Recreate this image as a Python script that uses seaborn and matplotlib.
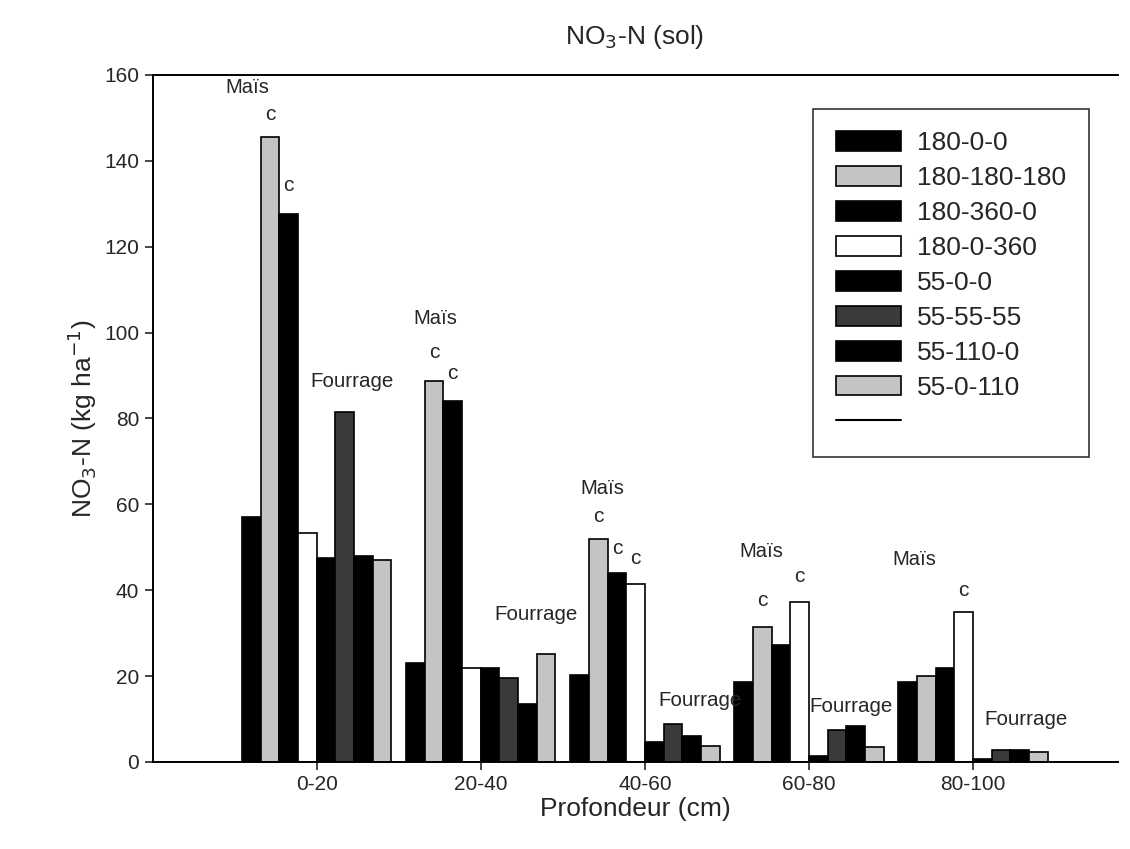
import matplotlib
matplotlib.use("Agg")
import matplotlib.pyplot as plt
from matplotlib.lines import Line2D
import numpy as np
import pandas as pd
import seaborn as sns

depths = ["0-20", "20-40", "40-60", "60-80", "80-100"]
treatments = ["180-0-0", "180-180-180", "180-360-0", "180-0-360",
              "55-0-0", "55-55-55", "55-110-0", "55-0-110"]

# NO3-N (kg/ha) per treatment, one value per depth
v_180_0_0 = [57, 23, 20.3, 18.6, 18.6]
v_180_180_180 = [145.5, 88.8, 52, 31.5, 20]
v_180_360_0 = [127.7, 84, 44, 27.2, 22]
v_180_0_360 = [53.4, 22, 41.5, 37.3, 35]
v_55_0_0 = [47.6, 22, 4.7, 1.4, 0.8]
v_55_55_55 = [81.6, 19.6, 8.8, 7.5, 2.8]
v_55_110_0 = [48, 13.5, 6, 8.4, 2.8]
v_55_0_110 = [47.1, 25.2, 3.7, 3.5, 2.3]

series = [v_180_0_0, v_180_180_180, v_180_360_0, v_180_0_360,
          v_55_0_0, v_55_55_55, v_55_110_0, v_55_0_110]

colors = ["#000000", "#c4c4c4", "#000000", "#ffffff",
          "#000000", "#3a3a3a", "#000000", "#c4c4c4"]

# "c" letters: (depth index, treatment index, gap above the bar)
c_marks = [(0, 1, 5.2), (0, 2, 6.5), (1, 1, 6.5), (1, 2, 6.5), (2, 1, 5.2),
           (2, 2, 5.8), (2, 3, 6), (3, 1, 6), (3, 3, 6), (4, 3, 5)]
# crop labels: (x in category units, y)
mais_labels = [(-0.42, 157), (0.72, 103.3), (1.74, 63.7), (2.71, 49), (3.64, 47.2)]
fourrage_labels = [(-0.04, 88.5), (1.085, 34.3), (2.08, 14.3), (3.0, 12.9), (4.07, 9.9)]

rows = []
for t, vals in zip(treatments, series):
    for d, v in zip(depths, vals):
        rows.append({"Profondeur": d, "Traitement": t, "NO3": v})
df = pd.DataFrame(rows)

sns.set_style("ticks")
plt.rcParams["font.family"] = ["Liberation Sans", "DejaVu Sans"]

fig = plt.figure(figsize=(11.3, 8.49), dpi=100)
ax = fig.add_axes([0.135, 0.1025, 0.854, 0.8092])

group_w = 0.91
sns.barplot(data=df, x="Profondeur", y="NO3", hue="Traitement",
            hue_order=treatments, order=depths, palette=colors,
            width=group_w, gap=0, edgecolor="black", linewidth=1.2,
            errorbar=None, ax=ax, legend=True)

bw = group_w / len(treatments)
for di, ti, gap in c_marks:
    x = di - group_w / 2 + bw * (ti + 0.5)
    ax.text(x, series[ti][di] + gap, "c", ha="center", va="center", fontsize=15)

for x, y in mais_labels:
    ax.text(x, y, "Maïs", ha="center", va="center", fontsize=14.5)
for x, y in fourrage_labels:
    ax.text(x, y, "Fourrage", ha="left", va="center", fontsize=14.8)

ax.set_ylim(0, 160)
ax.set_xlim(-1.0, 4.88)
ax.set_yticks(np.arange(0, 161, 20))
ax.tick_params(axis="both", labelsize=15, direction="out", length=6, width=1.2)
for s in ["left", "bottom", "top"]:
    ax.spines[s].set_linewidth(1.4)
    ax.spines[s].set_color("black")
ax.spines["right"].set_visible(False)

ax.set_xlabel("Profondeur (cm)", fontsize=19, labelpad=2)
ax.set_ylabel("NO$_3$-N (kg ha$^{-1}$)", fontsize=19)
ax.set_title("NO$_3$-N (sol)", fontsize=19, pad=22)

handles, labels = ax.get_legend_handles_labels()
ax.get_legend().remove()
handles.append(Line2D([0], [0], color="black", linewidth=1.5))
labels.append(" ")
leg = ax.legend(handles, labels, loc="upper right", bbox_to_anchor=(0.970, 0.9505),
                fontsize=19, frameon=True, fancybox=False, edgecolor="black",
                handlelength=2.5, handleheight=0.78, handletextpad=0.6,
                labelspacing=0.41, borderpad=0.84, borderaxespad=0)
leg.get_frame().set_linewidth(1.2)

fig.savefig("out.png", dpi=100)
